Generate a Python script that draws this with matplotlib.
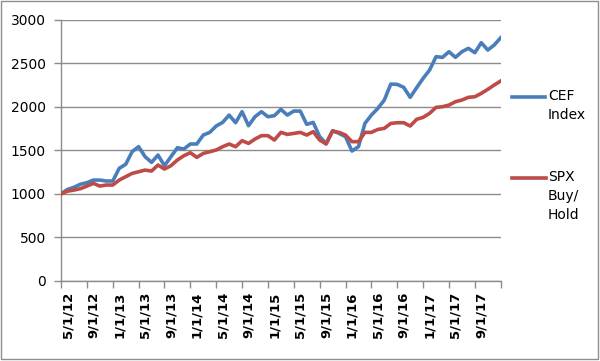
import matplotlib
matplotlib.use("Agg")
import matplotlib.pyplot as plt
from matplotlib.lines import Line2D
from matplotlib.patches import Rectangle

# Monthly observations, 5/1/12 .. 1/1/18
cef_index = [1000, 1050, 1075, 1110, 1128, 1158, 1158, 1147, 1147, 1293,
             1339, 1485, 1543, 1427, 1362, 1446, 1323, 1427, 1530, 1515,
             1573, 1573, 1676, 1707, 1780, 1822, 1906, 1818, 1945, 1784,
             1887, 1945, 1887, 1899, 1972, 1906, 1952, 1952, 1799, 1822,
             1657, 1580, 1726, 1695, 1657, 1492, 1542, 1810, 1906, 1983,
             2079, 2263, 2259, 2225, 2110, 2221, 2328, 2424, 2578, 2570,
             2635, 2570, 2635, 2674, 2624, 2739, 2654, 2712, 2796]
spx_buy_hold = [1000, 1030, 1043, 1059, 1089, 1120, 1089, 1101, 1101, 1158,
                1197, 1235, 1254, 1273, 1262, 1331, 1285, 1323, 1389, 1438,
                1473, 1419, 1465, 1484, 1504, 1542, 1573, 1542, 1611, 1580,
                1630, 1669, 1669, 1619, 1707, 1684, 1695, 1707, 1676, 1715,
                1619, 1573, 1722, 1707, 1676, 1600, 1600, 1707, 1707, 1741,
                1753, 1810, 1818, 1818, 1780, 1857, 1880, 1926, 1995, 2002,
                2021, 2060, 2079, 2110, 2117, 2156, 2202, 2252, 2298]
tick_labels = ["5/1/12", "9/1/12", "1/1/13", "5/1/13", "9/1/13", "1/1/14",
               "5/1/14", "9/1/14", "1/1/15", "5/1/15", "9/1/15", "1/1/16",
               "5/1/16", "9/1/16", "1/1/17", "5/1/17", "9/1/17"]
series_names = ["CEF\nIndex", "SPX\nBuy/\nHold"]
y_ticks = [0, 500, 1000, 1500, 2000, 2500, 3000]

BLUE = "#4A7EBB"
RED = "#BE4B48"
GRID = "#8C8C8C"

plt.rcParams['font.family'] = ['DejaVu Sans']
fig = plt.figure(figsize=(6.0, 3.61), dpi=100)
ax = fig.add_axes([0.1017, 0.2224, 0.7328, 0.7222])

months = list(range(len(cef_index)))
l1, = ax.plot(months, cef_index, color=BLUE, lw=2.6, solid_joinstyle='round', zorder=3)
l2, = ax.plot(months, spx_buy_hold, color=RED, lw=2.6, solid_joinstyle='round', zorder=3)

ax.set_xlim(0, len(months) - 1)
ax.set_ylim(0, 3000)
ax.set_yticks(y_ticks)
ax.set_yticklabels([str(v) for v in y_ticks], fontsize=10)
ax.yaxis.grid(True, color=GRID, lw=1.0)
ax.set_axisbelow(True)

xt = list(range(0, len(months), 4))
ax.set_xticks(xt)
ax.set_xticklabels(tick_labels + [""] * (len(xt) - len(tick_labels)),
                   rotation=90, fontsize=9.5, fontweight='bold', ha='left', va='top')
ax.tick_params(axis='x', length=5, width=1, color=GRID, pad=3)
ax.tick_params(axis='y', length=5, width=1, color=GRID, pad=6)

for s in ['top', 'right']:
    ax.spines[s].set_visible(False)
for s in ['left', 'bottom']:
    ax.spines[s].set_color(GRID)
    ax.spines[s].set_linewidth(1.0)

# Legend drawn manually (handle aligned with first text line)
fig.add_artist(Line2D([512/600, 545/600], [1-97/361, 1-97/361], color=BLUE, lw=2.6))
fig.text(548/600, 1-89/361, series_names[0], fontsize=10, va='top',
         ha='left', linespacing=1.45, transform=fig.transFigure)
fig.add_artist(Line2D([512/600, 546/600], [1-178/361, 1-178/361], color=RED, lw=2.6))
fig.text(548/600, 1-170/361, series_names[1], fontsize=10, va='top',
         ha='left', linespacing=1.45, transform=fig.transFigure)

# chart area border
fig.add_artist(Rectangle((0.002, 0.006), 0.994, 0.99, transform=fig.transFigure,
                         fill=False, edgecolor="#8E8E8E", lw=1.0))

fig.savefig("out.png", dpi=100)
